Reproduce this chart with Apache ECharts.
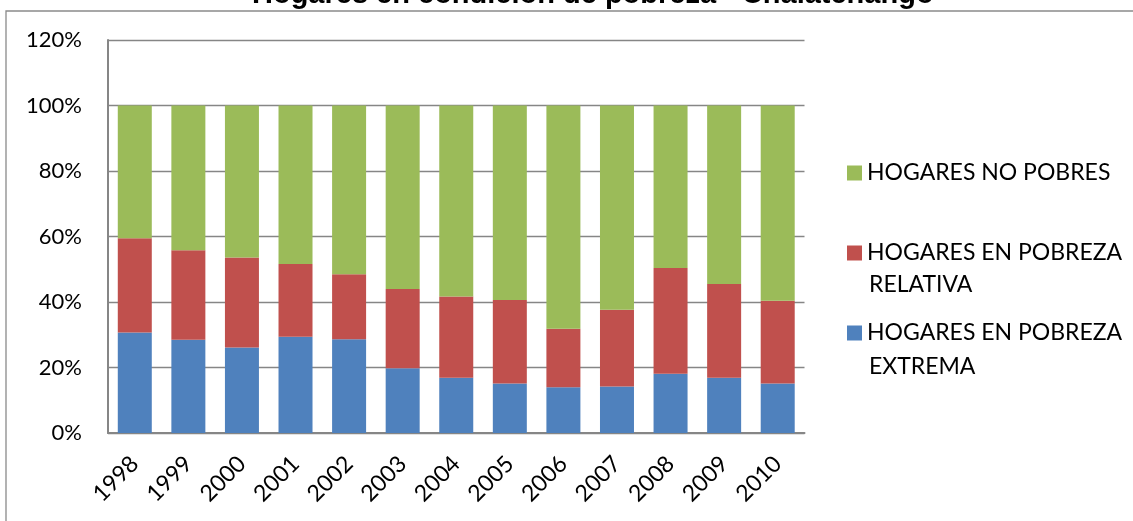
<!DOCTYPE html>
<html>
<head>
<meta charset="utf-8">
<script src="https://cdn.jsdelivr.net/npm/echarts@6/dist/echarts.min.js"></script>
<style>html,body{margin:0;padding:0;background:#fff}#c{width:1133px;height:521px}</style>
</head>
<body>
<div id="c"></div>
<script>
const years = ['1998','1999','2000','2001','2002','2003','2004','2005','2006','2007','2008','2009','2010'];
const extrema = [30.7, 28.5, 26.1, 29.4, 28.6, 19.8, 16.9, 15.1, 14.0, 14.2, 18.1, 16.9, 15.1];
const relativa = [28.8, 27.3, 27.5, 22.2, 19.9, 24.2, 24.8, 25.5, 17.8, 23.4, 32.3, 28.6, 25.3];
const noPobres = [40.5, 44.2, 46.4, 48.4, 51.5, 56.0, 58.3, 59.4, 68.2, 62.4, 49.6, 54.5, 59.6];
const yTicks = [0, 20, 40, 60, 80, 100, 120];
const names = ['HOGARES EN POBREZA EXTREMA', 'HOGARES EN POBREZA RELATIVA', 'HOGARES NO POBRES'];
const legendFirstLine = {
  'HOGARES NO POBRES': 'HOGARES NO POBRES',
  'HOGARES EN POBREZA RELATIVA': 'HOGARES EN POBREZA',
  'HOGARES EN POBREZA EXTREMA': 'HOGARES EN POBREZA'
};
const FONT = 'Lato';
const chart = echarts.init(document.getElementById('c'), null, {renderer: 'canvas'});
chart.setOption({
  animation: false,
  backgroundColor: '#fff',
  title: {
    text: 'Hogares en condición de pobreza - Chalatenango',
    left: 252,
    top: -20,
    padding: 0,
    textStyle: {fontFamily: 'Liberation Sans', fontWeight: 'bold', fontSize: 29, color: '#000', lineHeight: 29}
  },
  graphic: [
    {type: 'rect', z: -1, shape: {x: 6, y: 11, width: 1300, height: 700}, style: {fill: 'none', stroke: '#8a8a8a', lineWidth: 1.3}},
    {type: 'text', x: 869, y: 285, style: {text: 'RELATIVA', font: '23px Lato', fill: '#000', verticalAlign: 'middle'}},
    {type: 'text', x: 869, y: 367, style: {text: 'EXTREMA', font: '23px Lato', fill: '#000', verticalAlign: 'middle'}}
  ],
  grid: {left: 108, right: 328.5, top: 40, bottom: 88, containLabel: false},
  legend: {
    orient: 'vertical',
    left: 842,
    top: 155,
    itemWidth: 15,
    itemHeight: 15,
    itemGap: 54,
    icon: 'rect',
    data: ['HOGARES NO POBRES', 'HOGARES EN POBREZA RELATIVA', 'HOGARES EN POBREZA EXTREMA'],
    formatter: n => legendFirstLine[n],
    textStyle: {fontFamily: FONT, fontSize: 23, color: '#000', lineHeight: 26}
  },
  xAxis: {
    type: 'category',
    data: years,
    axisLine: {lineStyle: {color: '#868686', width: 2}},
    axisTick: {show: false},
    axisLabel: {rotate: 45, margin: 27, fontFamily: FONT, fontSize: 23, color: '#000', interval: 0}
  },
  yAxis: {
    type: 'value',
    min: 0, max: 120, interval: 20,
    axisLine: {show: true, lineStyle: {color: '#868686', width: 2}},
    axisTick: {show: false},
    splitLine: {lineStyle: {color: '#868686', width: 1.3}},
    axisLabel: {formatter: v => yTicks.includes(v) ? v + '%' : '', margin: 26, fontFamily: FONT, fontSize: 22, color: '#000'}
  },
  series: [
    {name: names[0], type: 'bar', stack: 't', barWidth: 34, data: extrema, itemStyle: {color: '#4F81BD'}},
    {name: names[1], type: 'bar', stack: 't', barWidth: 34, data: relativa, itemStyle: {color: '#C0504D'}},
    {name: names[2], type: 'bar', stack: 't', barWidth: 34, data: noPobres, itemStyle: {color: '#9BBB59'}}
  ]
});
</script>
</body>
</html>
